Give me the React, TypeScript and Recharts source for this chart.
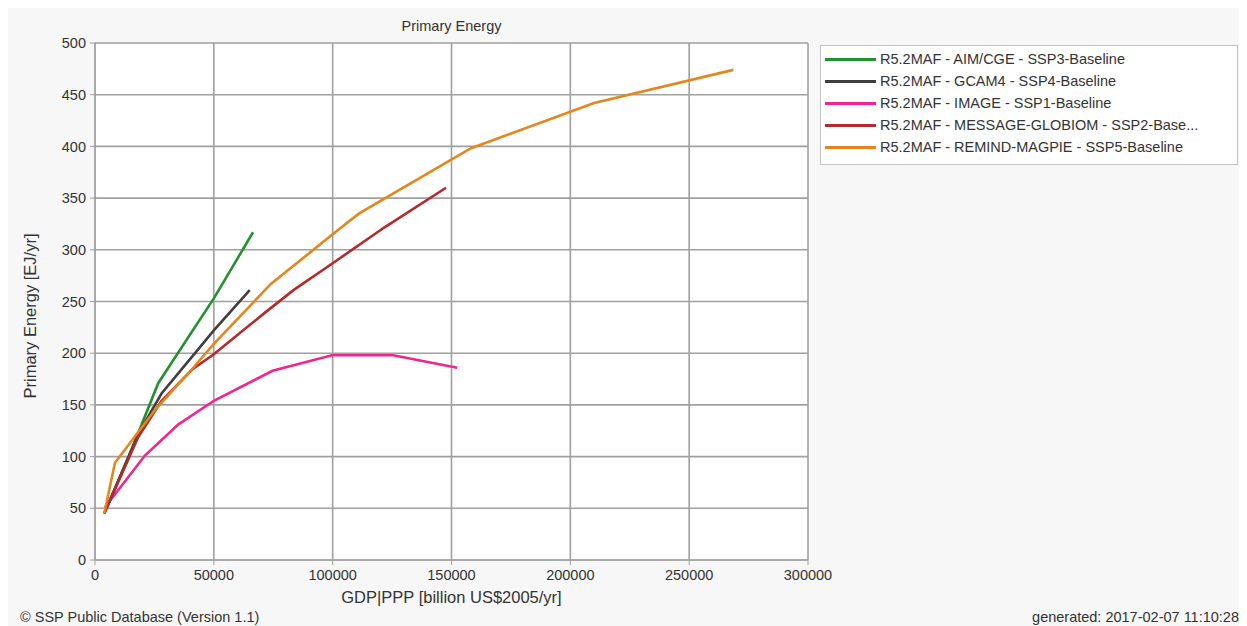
import React from "react";
import { LineChart, Line, XAxis, YAxis, CartesianGrid } from "recharts";

const xTicks = [0, 50000, 100000, 150000, 200000, 250000, 300000];
const yTicks = [0, 50, 100, 150, 200, 250, 300, 350, 400, 450, 500];

const aimGdp = [3900, 14000, 26600, 38000, 50000, 66500];
const aimEnergy = [45, 99, 171, 211, 253, 317];

const gcamGdp = [3900, 18200, 28000, 40600, 50000, 65100];
const gcamEnergy = [45, 122, 161, 196, 222, 261];

const imageGdp = [4200, 21000, 35000, 50000, 74700, 99700, 125500, 152400];
const imageEnergy = [51, 101, 131, 154, 183, 198, 198, 186];

const messageGdp = [3900, 18200, 28000, 41300, 50000, 71400, 83500, 100000, 122000, 147700];
const messageEnergy = [45, 119, 154, 185, 199, 239, 261, 287, 322, 360];

const remindGdp = [3900, 8400, 14000, 25200, 40600, 50000, 74000, 100000, 111000, 158000, 210000, 268600];
const remindEnergy = [45, 94, 111, 145, 184, 209, 267, 315, 335, 398, 442, 474];

const zip = (xs: number[], ys: number[]) => xs.map((x, i) => ({ x, y: ys[i] }));

const series = [
  { name: "R5.2MAF - AIM/CGE - SSP3-Baseline", color: "#23912f", data: zip(aimGdp, aimEnergy) },
  { name: "R5.2MAF - GCAM4 - SSP4-Baseline", color: "#3f3f3f", data: zip(gcamGdp, gcamEnergy) },
  { name: "R5.2MAF - IMAGE - SSP1-Baseline", color: "#f2248e", data: zip(imageGdp, imageEnergy) },
  { name: "R5.2MAF - MESSAGE-GLOBIOM - SSP2-Base...", color: "#b32a2a", data: zip(messageGdp, messageEnergy) },
  { name: "R5.2MAF - REMIND-MAGPIE - SSP5-Baseline", color: "#e5861c", data: zip(remindGdp, remindEnergy) },
];

const font = "'Liberation Sans', Arial, sans-serif";

const LegendBox = () => (
  <div
    style={{
      position: "absolute",
      left: 812,
      top: 37,
      width: 418,
      height: 120,
      border: "1px solid #c4c4c4",
      background: "#ffffff",
      boxSizing: "border-box",
      paddingTop: 2,
      fontFamily: font,
      fontSize: 14.5,
      color: "#333",
    }}
  >
    {series.map((s) => (
      <div key={s.name} style={{ display: "flex", alignItems: "center", height: 22 }}>
        <div style={{ width: 51, height: 3, background: s.color, marginLeft: 4, marginRight: 4 }} />
        <span style={{ whiteSpace: "nowrap" }}>{s.name}</span>
      </div>
    ))}
  </div>
);

export default function App() {
  return (
    <div
      style={{
        position: "relative",
        width: 1231,
        height: 618,
        background: "#f7f7f7",
        fontFamily: font,
        color: "#333",
      }}
    >
      <div style={{ position: "absolute", left: 0, width: 887, top: 10, textAlign: "center", fontSize: 14.5 }}>
        Primary Energy
      </div>
      <LineChart
        width={1231}
        height={610}
        margin={{ top: 35, right: 431, left: 0, bottom: 0 }}
        style={{ position: "absolute", left: 0, top: 0 }}
      >
        <CartesianGrid stroke="#a0a0a0" strokeWidth={1.6} fill="#ffffff" fillOpacity={1} />
        <XAxis
          type="number"
          dataKey="x"
          domain={[0, 300000]}
          ticks={xTicks}
          interval={0}
          height={58}
          tickSize={5}
          tickMargin={5}
          stroke="#a0a0a0"
          tick={{ fill: "#333", fontSize: 14.5, fontFamily: font }}
          allowDataOverflow
        />
        <YAxis
          type="number"
          dataKey="y"
          domain={[0, 500]}
          ticks={yTicks}
          interval={0}
          width={87}
          tickSize={5}
          tickMargin={4}
          stroke="#a0a0a0"
          tick={{ fill: "#333", fontSize: 14.5, fontFamily: font }}
          allowDataOverflow
        />
        {series.map((s) => (
          <Line
            key={s.name}
            data={s.data}
            dataKey="y"
            name={s.name}
            type="linear"
            stroke={s.color}
            strokeWidth={2.6}
            dot={false}
            activeDot={false}
            isAnimationActive={false}
          />
        ))}
      </LineChart>
      <LegendBox />
      <div
        style={{
          position: "absolute",
          left: 22,
          top: 308,
          transform: "translate(-50%, -50%) rotate(-90deg)",
          fontSize: 16.5,
          whiteSpace: "nowrap",
        }}
      >
        Primary Energy [EJ/yr]
      </div>
      <div style={{ position: "absolute", left: 0, width: 887, top: 580, textAlign: "center", fontSize: 16.5 }}>
        GDP|PPP [billion US$2005/yr]
      </div>
      <div style={{ position: "absolute", left: 12, top: 601, fontSize: 14.5 }}>
        © SSP Public Database (Version 1.1)
      </div>
      <div style={{ position: "absolute", right: 0, top: 601, fontSize: 14.5 }}>
        generated: 2017-02-07 11:10:28
      </div>
    </div>
  );
}
